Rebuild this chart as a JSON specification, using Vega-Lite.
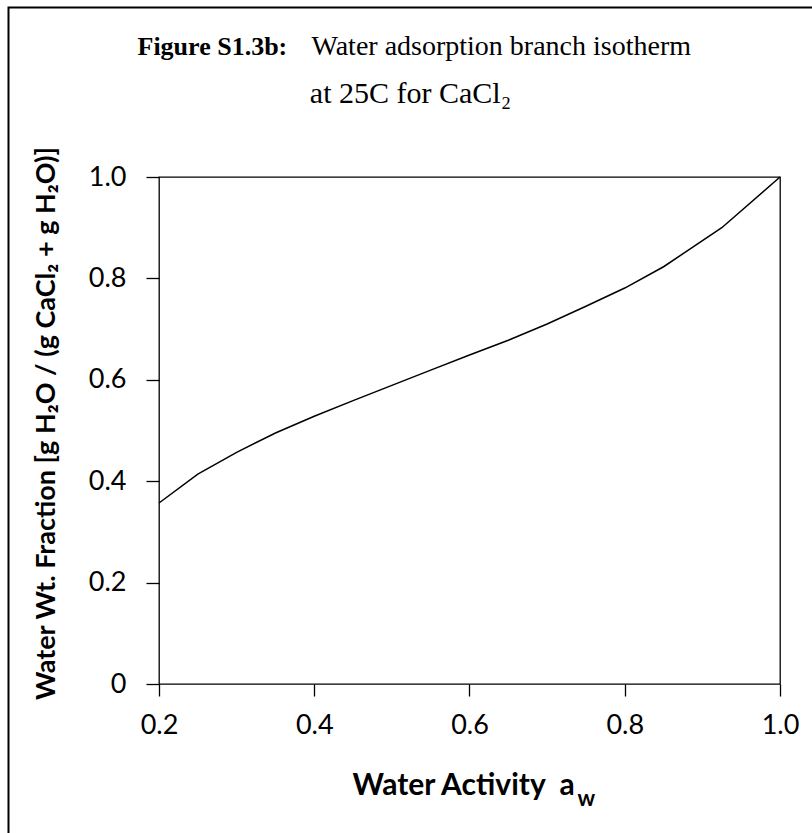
{
  "$schema": "https://vega.github.io/schema/vega-lite/v6.json",
  "width": 621,
  "height": 507,
  "autosize": "none",
  "padding": {"left": 159, "top": 177, "right": 32, "bottom": 149},
  "background": "white",
  "config": {"view": {"stroke": "#000", "strokeWidth": 1.3}},
  "title": {
    "text": "at 25C for CaCl₂",
    "font": "Liberation Serif",
    "fontSize": 30,
    "fontWeight": "normal",
    "color": "#000",
    "anchor": "middle",
    "frame": "group",
    "dx": -59,
    "baseline": "alphabetic",
    "offset": -126
  },
  "datasets": {
    "iso": [
      {"aw": 0.2, "wf": 0.357},
      {"aw": 0.25, "wf": 0.414},
      {"aw": 0.3, "wf": 0.457},
      {"aw": 0.35, "wf": 0.495},
      {"aw": 0.4, "wf": 0.528},
      {"aw": 0.45, "wf": 0.559},
      {"aw": 0.5, "wf": 0.589},
      {"aw": 0.55, "wf": 0.619},
      {"aw": 0.6, "wf": 0.649},
      {"aw": 0.65, "wf": 0.678},
      {"aw": 0.7, "wf": 0.71},
      {"aw": 0.75, "wf": 0.745},
      {"aw": 0.8, "wf": 0.781},
      {"aw": 0.85, "wf": 0.823},
      {"aw": 0.925, "wf": 0.9},
      {"aw": 1.0, "wf": 1.0}
    ],
    "frame": [{"name": "border"}]
  },
  "layer": [
    {
      "data": {"name": "iso"},
      "mark": {"type": "line", "color": "#000", "strokeWidth": 1.5},
      "encoding": {
        "x": {
          "field": "aw",
          "type": "quantitative",
          "scale": {"domain": [0.2, 1.0], "nice": false, "zero": false},
          "axis": {
            "orient": "bottom",
            "values": [0.2, 0.4, 0.6, 0.8, 1.0],
            "format": ".1f",
            "domain": false,
            "grid": false,
            "tickColor": "#000",
            "tickSize": 12,
            "tickWidth": 1.3,
            "labelFont": "Lato",
            "labelFontSize": 27,
            "labelColor": "#000",
            "labelPadding": 16,
            "labelFlush": false,
            "labelOverlap": false,
            "title": "Water Activity \u00a0a",
            "titleFont": "Lato",
            "titleFontSize": 30,
            "titleFontWeight": "bold",
            "titleColor": "#000",
            "titleAlign": "left",
            "titleBaseline": "alphabetic",
            "titleX": 193,
            "titleY": 110
          }
        },
        "y": {
          "field": "wf",
          "type": "quantitative",
          "scale": {"domain": [0, 1], "nice": false},
          "axis": {
            "orient": "left",
            "values": [0, 0.2, 0.4, 0.6, 0.8, 1.0],
            "labelExpr": "datum.value == 0 ? '0' : format(datum.value, '.1f')",
            "domain": false,
            "grid": false,
            "tickColor": "#000",
            "tickSize": 13,
            "tickWidth": 1.3,
            "labelFont": "Lato",
            "labelFontSize": 27,
            "labelColor": "#000",
            "labelPadding": 20,
            "labelFlush": false,
            "labelOverlap": false,
            "title": "Water Wt. Fraction [g H₂O / (g CaCl₂ + g H₂O)]",
            "titleFont": "Lato",
            "titleFontSize": 27,
            "titleFontWeight": "bold",
            "titleColor": "#000",
            "titleAngle": 270,
            "titleAlign": "center",
            "titleBaseline": "alphabetic",
            "titleX": -105,
            "titleY": 246
          }
        }
      }
    },
    {
      "data": {"name": "iso"},
      "mark": {"type": "line", "opacity": 0},
      "encoding": {
        "x": {
          "field": "aw",
          "type": "quantitative",
          "axis": {
            "orient": "top",
            "domain": false,
            "ticks": false,
            "labels": false,
            "grid": false,
            "title": "Figure S1.3b:",
            "titleFont": "Liberation Serif",
            "titleFontSize": 26,
            "titleFontWeight": "bold",
            "titleColor": "#000",
            "titleAlign": "left",
            "titleBaseline": "alphabetic",
            "titleX": -22,
            "titleY": -123
          }
        },
        "y": {
          "field": "wf",
          "type": "quantitative",
          "axis": {
            "orient": "right",
            "domain": false,
            "ticks": false,
            "labels": false,
            "grid": false,
            "title": "Water adsorption branch isotherm",
            "titleFont": "Liberation Serif",
            "titleFontSize": 28,
            "titleFontWeight": "normal",
            "titleColor": "#000",
            "titleAngle": 0,
            "titleAlign": "left",
            "titleBaseline": "alphabetic",
            "titleX": -469,
            "titleY": -123
          }
        }
      }
    },
    {
      "data": {"name": "iso"},
      "mark": {"type": "line", "opacity": 0},
      "encoding": {
        "x": {
          "field": "aw",
          "type": "quantitative",
          "axis": {
            "orient": "bottom",
            "domain": false,
            "ticks": false,
            "labels": false,
            "grid": false,
            "title": "w",
            "titleFont": "Lato",
            "titleFontSize": 22,
            "titleFontWeight": "bold",
            "titleColor": "#000",
            "titleAlign": "left",
            "titleBaseline": "alphabetic",
            "titleX": 418,
            "titleY": 121
          }
        }
      }
    },
    {
      "data": {"name": "frame"},
      "mark": {"type": "rect", "filled": false, "stroke": "#000", "strokeWidth": 2},
      "encoding": {
        "x": {"value": -150.5},
        "x2": {"value": 700},
        "y": {"value": -169.5},
        "y2": {"value": 700}
      }
    }
  ],
  "resolve": {"axis": {"x": "independent", "y": "independent"}}
}
